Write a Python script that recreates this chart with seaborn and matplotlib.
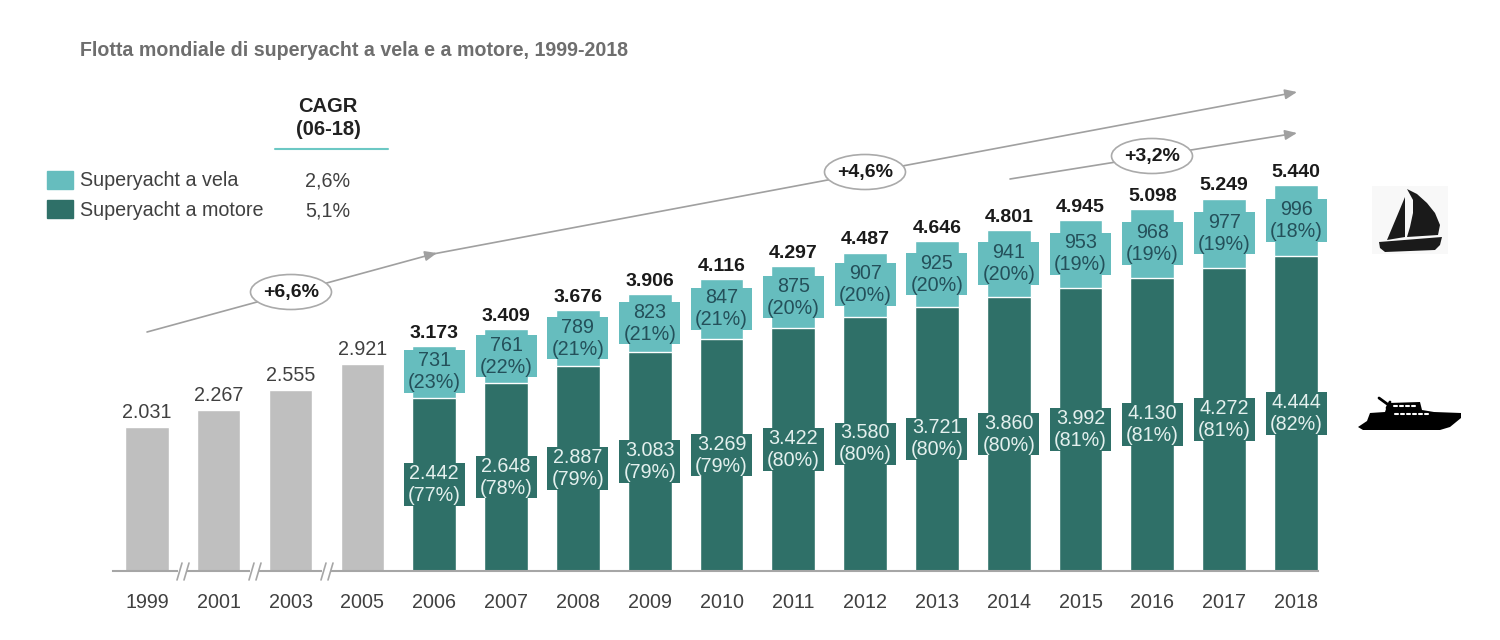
import matplotlib
matplotlib.use('Agg')
import matplotlib.pyplot as plt
import pandas as pd
import seaborn as sns
from matplotlib.patches import Ellipse, Patch, Polygon, Rectangle

anni = ['1999', '2001', '2003', '2005', '2006', '2007', '2008', '2009', '2010',
        '2011', '2012', '2013', '2014', '2015', '2016', '2017', '2018']
anni_storici = ['1999', '2001', '2003', '2005']
totali_storici = [2031, 2267, 2555, 2921]
anni_recenti = anni[4:]
vela = [731, 761, 789, 823, 847, 875, 907, 925, 941, 953, 968, 977, 996]
motore = [2442, 2648, 2887, 3083, 3269, 3422, 3580, 3721, 3860, 3992, 4130, 4272, 4444]
perc_vela = [23, 22, 21, 21, 21, 20, 20, 20, 20, 19, 19, 19, 18]
perc_motore = [77, 78, 79, 79, 79, 80, 80, 80, 80, 81, 81, 81, 82]

GRIGIO = '#BFBFBF'
VELA = '#66BDBE'
MOTORE = '#2F7068'
FS = 14.2

sns.set_style('white')
plt.rcParams['font.family'] = ['Liberation Sans', 'DejaVu Sans']

storici = pd.DataFrame({'anno': anni_storici, 'totale': totali_storici})
recenti = pd.DataFrame({'anno': anni_recenti, 'vela': vela, 'motore': motore})
recenti['totale'] = recenti['vela'] + recenti['motore']

fig = plt.figure(figsize=(15, 6.4), dpi=100)
ax = fig.add_axes([113 / 1500, (640 - 571) / 640, (1318 - 113) / 1500, (571 - 60) / 640])

# barre: prima i totali, sopra la parte a motore
sns.barplot(data=storici, x='anno', y='totale', order=anni, color=GRIGIO, width=0.6,
            saturation=1, ax=ax)
sns.barplot(data=recenti, x='anno', y='totale', order=anni, color=VELA, width=0.61,
            saturation=1, ax=ax)
sns.barplot(data=recenti, x='anno', y='motore', order=anni, color=MOTORE, width=0.61,
            saturation=1, edgecolor='white', linewidth=1, ax=ax)

ax.set_xlim(-0.4735, 16.306)
ax.set_ylim(0, 511 / 0.07096)
ax.set_xlabel('')
ax.set_ylabel('')
ax.set_yticks([])
ax.tick_params(axis='x', length=0, pad=15.5, labelsize=FS, labelcolor='#404040')
sns.despine(ax=ax, left=True)
ax.spines['bottom'].set_color('#A6A6A6')
ax.spines['bottom'].set_linewidth(1.5)
ax.patch.set_alpha(0)


def num(v):
    return f'{v:,}'.replace(',', '.')


for a, t in zip(anni_storici, totali_storici):
    ax.annotate(num(t), (anni.index(a), t), xytext=(0, 3.5), textcoords='offset points',
                ha='center', va='bottom', fontsize=FS, color='#404040')

for i, a in enumerate(anni_recenti):
    x = anni.index(a)
    tot = vela[i] + motore[i]
    ax.annotate(num(tot), (x, tot), xytext=(0, 3), textcoords='offset points',
                ha='center', va='bottom', fontsize=14, fontweight='bold', color='#1A1A1A')
    # sfondo delle etichette, piu largo della barra
    for centro, colore in [(motore[i] + vela[i] / 2, VELA), (motore[i] / 2, MOTORE)]:
        ax.bar(x, 600, bottom=centro - 300, width=0.85, color=colore, linewidth=0, zorder=3,
               clip_on=False)
    ax.text(x, motore[i] + vela[i] / 2, f'{vela[i]}\n({perc_vela[i]}%)', ha='center', va='center',
            fontsize=FS, color='#24505A', linespacing=1.2, zorder=4)
    ax.text(x, motore[i] / 2, f'{num(motore[i])}\n({perc_motore[i]}%)', ha='center', va='center',
            fontsize=FS, color='#E4F0EE', linespacing=1.2, zorder=4)

# livello in pixel per titolo, frecce, legenda e icone
ov = fig.add_axes([0, 0, 1, 1], zorder=5)
ov.set_xlim(0, 1500)
ov.set_ylim(640, 0)
ov.axis('off')

ov.text(80, 50, 'Flotta mondiale di superyacht a vela e a motore, 1999-2018', fontsize=14.1,
        fontweight='bold', color='#6E6E6E', va='center')

ov.text(328, 118, 'CAGR\n(06-18)', fontsize=14.5, fontweight='bold', color='#222222',
        ha='center', va='center', linespacing=1.3)
ov.plot([275, 388], [149, 149], color='#6CC8C4', lw=1.5)
ov.text(328, 181, '2,6%', fontsize=FS, color='#404040', ha='center', va='center')
ov.text(328, 211, '5,1%', fontsize=FS, color='#404040', ha='center', va='center')

fig.legend(handles=[Patch(color=VELA, label='Superyacht a vela'),
                    Patch(color=MOTORE, label='Superyacht a motore')],
           loc='upper left', bbox_to_anchor=(41 / 1500, 1 - 165 / 640), frameon=False,
           fontsize=FS, labelcolor='#404040', handlelength=1.32, handleheight=1.0,
           handletextpad=0.35, labelspacing=0.5, borderpad=0.3, borderaxespad=0)

# interruzioni dell'asse
for cx in [183, 255, 327]:
    ov.add_patch(Rectangle((cx - 5, 568), 9, 6, fc='white', ec='none'))
    for dx in [-3.5, 3.5]:
        ov.plot([cx + dx + 2.5, cx + dx - 2.5], [563, 580], color='#A6A6A6', lw=1.2)

# frecce di crescita
FRECCIA = '#A0A0A0'
testa = dict(arrowstyle='-|>,head_length=0.72,head_width=0.3', color=FRECCIA, lw=1.2,
             shrinkA=0, shrinkB=0)
ov.plot([147, 433], [332, 254], color=FRECCIA, lw=1.2)
ov.annotate('', xy=(1297, 92), xytext=(433, 254), arrowprops=testa)
ov.annotate('', xy=(437, 253), xytext=(425, 256), arrowprops=testa)
ov.annotate('', xy=(1297, 133), xytext=(1010, 179), arrowprops=testa)

for cx, cy, testo in [(291, 292, '+6,6%'), (865, 172, '+4,6%'), (1152, 156, '+3,2%')]:
    ov.add_patch(Ellipse((cx, cy), 81, 35, fc='white', ec='#AAAAAA', lw=1.2, zorder=6))
    ov.text(cx, cy, testo, fontsize=14, fontweight='bold', color='#1A1A1A', ha='center',
            va='center', zorder=7)

# icona barca a vela
ov.add_patch(Rectangle((1372, 186), 76, 68, fc='#F8F8F8', ec='none'))
for pts in [
    [(1405, 197), (1405, 237), (1387, 240)],
    [(1407, 189), (1417, 194), (1427, 203), (1435, 213), (1440, 225), (1438, 235), (1407, 237),
     (1410, 227), (1413, 213), (1413, 200)],
    [(1379, 242), (1442, 237), (1440, 245), (1435, 250), (1385, 252), (1380, 248)],
]:
    ov.add_patch(Polygon(pts, fc='#1A1A1A', ec='none'))

# icona yacht
ov.add_patch(Polygon([(1358, 427), (1367, 421), (1370, 413), (1385, 412), (1388, 403), (1420, 402),
                      (1422, 410), (1434, 412), (1461, 413), (1461, 418), (1450, 427), (1440, 430),
                      (1363, 430)], fc='black', ec='none'))
ov.plot([1379, 1390], [398, 406], color='black', lw=2)
ov.plot([1390, 1387], [402, 408], color='black', lw=2)
ov.plot([1369, 1384], [410.5, 410], color='white', lw=1)
for xw in range(1395, 1430, 6):
    ov.plot([xw, xw + 3], [414, 414], color='white', lw=1.5)
for xw in range(1394, 1418, 6):
    ov.plot([xw, xw + 3], [405.5, 405.5], color='white', lw=1.5)

fig.savefig('out.png', dpi=100)
